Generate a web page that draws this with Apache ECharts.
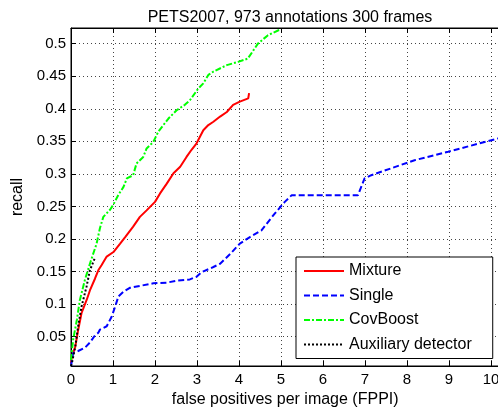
<!DOCTYPE html>
<html>
<head>
<meta charset="utf-8">
<script src="https://cdn.jsdelivr.net/npm/echarts@6/dist/echarts.min.js"></script>
<style>
  html, body { margin: 0; padding: 0; background: #fff; }
  #chart { width: 498px; height: 408px; }
</style>
</head>
<body>
<div id="chart"></div>
<script>
// Recall vs. false positives per image on PETS2007
const seriesNames = ['Mixture', 'Single', 'CovBoost', 'Auxiliary detector'];

const mixtureFppi   = [0, 0.02, 0.1, 0.17, 0.25, 0.37, 0.45, 0.57, 0.65, 0.73, 0.85, 1.01, 1.17, 1.29, 1.48, 1.64, 1.80, 2.0, 2.12, 2.28, 2.44, 2.6, 2.75, 2.87, 2.99, 3.07, 3.15, 3.27, 3.39, 3.55, 3.71, 3.86, 4.02, 4.22, 4.24];
const mixtureRecall = [0.0095, 0.019, 0.034, 0.060, 0.086, 0.106, 0.121, 0.139, 0.152, 0.160, 0.173, 0.180, 0.193, 0.203, 0.219, 0.234, 0.244, 0.257, 0.270, 0.285, 0.301, 0.311, 0.326, 0.337, 0.347, 0.357, 0.367, 0.375, 0.380, 0.388, 0.395, 0.406, 0.411, 0.416, 0.424];

const singleFppi   = [0, 0.05, 0.17, 0.33, 0.45, 0.57, 0.65, 0.69, 0.73, 0.85, 0.97, 1.05, 1.13, 1.25, 1.40, 1.64, 1.96, 2.28, 2.52, 2.83, 2.99, 3.11, 3.39, 3.55, 3.79, 4.02, 4.26, 4.53, 4.85, 5.09, 5.25, 6.83, 6.99, 7.15, 8.18, 8.98, 10.2];
const singleRecall = [0.005, 0.025, 0.028, 0.033, 0.041, 0.052, 0.056, 0.061, 0.063, 0.066, 0.081, 0.096, 0.112, 0.119, 0.125, 0.128, 0.132, 0.133, 0.136, 0.138, 0.142, 0.149, 0.157, 0.162, 0.177, 0.193, 0.203, 0.213, 0.239, 0.257, 0.267, 0.267, 0.293, 0.298, 0.321, 0.334, 0.355];

const covBoostFppi   = [0, 0.05, 0.14, 0.21, 0.33, 0.45, 0.61, 0.69, 0.77, 0.93, 1.01, 1.13, 1.25, 1.33, 1.48, 1.56, 1.72, 1.80, 1.96, 2.08, 2.2, 2.32, 2.52, 2.71, 2.83, 3.03, 3.15, 3.27, 3.39, 3.71, 3.98, 4.21, 4.45, 4.69, 4.99];
const covBoostRecall = [0.014, 0.045, 0.076, 0.106, 0.137, 0.162, 0.193, 0.217, 0.234, 0.245, 0.253, 0.268, 0.28, 0.293, 0.298, 0.316, 0.326, 0.339, 0.349, 0.365, 0.375, 0.385, 0.398, 0.406, 0.413, 0.431, 0.439, 0.452, 0.457, 0.467, 0.472, 0.477, 0.5, 0.513, 0.522];

const auxFppi   = [0, 0.02, 0.1, 0.17, 0.25, 0.37, 0.45, 0.57];
const auxRecall = [0.005, 0.009, 0.034, 0.066, 0.096, 0.127, 0.152, 0.171];

const xTicks = [0, 1, 2, 3, 4, 5, 6, 7, 8, 9, 10];
const yTicks = [0.05, 0.1, 0.15, 0.2, 0.25, 0.3, 0.35, 0.4, 0.45, 0.5];

const pairs = (xs, ys) => xs.map((x, i) => [x, ys[i]]);
const FONT = 'Liberation Sans, Arial, Helvetica, sans-serif';

const chart = echarts.init(document.getElementById('chart'), null, { renderer: 'canvas' });

const isTick = (v, list) => list.some(t => Math.abs(t - v) < 1e-9);

const lineSeries = (name, data, color, type, width) => ({
  name, type: 'line', data, symbol: 'none', showSymbol: false,
  clip: true, animation: false,
  lineStyle: { color, width, type },
  itemStyle: { color }
});

chart.setOption({
  animation: false,
  backgroundColor: '#fff',
  title: {
    text: 'PETS2007, 973 annotations 300 frames',
    left: 285, top: 5, textAlign: 'center',
    textStyle: { fontFamily: FONT, fontSize: 16, fontWeight: 'normal', color: '#000' }
  },
  grid: {
    left: 71, top: 28, right: -1.4, bottom: 42,
    outerBoundsMode: 'none', containLabel: false,
    show: true, borderColor: '#000', borderWidth: 1, backgroundColor: '#fff'
  },
  legend: {
    orient: 'vertical', left: 296, top: 257,
    padding: [6, 21, 6, 7], itemGap: 8.5, itemWidth: 40, itemHeight: 14,
    backgroundColor: '#fff', borderColor: '#000', borderWidth: 1, borderRadius: 0,
    data: seriesNames,
    // line samples only, no marker in the middle
    itemStyle: { opacity: 0 },
    textStyle: { fontFamily: FONT, fontSize: 16, color: '#000', lineHeight: 16 }
  },
  xAxis: [{
    type: 'value', min: 0, max: 10.2, interval: 1, position: 'bottom',
    name: 'false positives per image (FPPI)', nameLocation: 'middle', nameGap: 23,
    nameTextStyle: { fontFamily: FONT, fontSize: 16, color: '#000' },
    axisLine: { show: true, lineStyle: { color: '#000', width: 1 } },
    axisTick: { show: true, inside: true, length: 5, lineStyle: { color: '#000' } },
    axisLabel: {
      fontFamily: FONT, fontSize: 15, color: '#000', margin: 6,
      formatter: v => isTick(v, xTicks) ? String(v) : ''
    },
    splitLine: { show: true, lineStyle: { color: '#444', width: 1, type: [1, 3] } }
  }, {
    type: 'value', min: 0, max: 10.2, interval: 1, position: 'top',
    axisLine: { show: true, lineStyle: { color: '#000', width: 1 } },
    axisTick: { show: true, inside: true, length: 5, lineStyle: { color: '#000' } },
    axisLabel: { show: false },
    splitLine: { show: false }
  }],
  yAxis: [{
    type: 'value', min: 0.005, max: 0.524, splitNumber: 10,
    name: 'recall', nameLocation: 'middle', nameGap: 35,
    nameTextStyle: { fontFamily: FONT, fontSize: 16, color: '#000' },
    axisLine: { show: true, lineStyle: { color: '#000', width: 1 } },
    axisTick: { show: true, inside: true, length: 5, lineStyle: { color: '#000' } },
    axisLabel: {
      fontFamily: FONT, fontSize: 15, color: '#000', margin: 5,
      showMinLabel: false, showMaxLabel: false,
      formatter: v => isTick(Math.round(v * 1000) / 1000, yTicks) ? String(Math.round(v * 1000) / 1000) : ''
    },
    splitLine: { show: true, lineStyle: { color: '#444', width: 1, type: [1, 3] } }
  }],
  series: [
    lineSeries('Mixture', pairs(mixtureFppi, mixtureRecall), '#ff0000', 'solid', 2),
    lineSeries('Single', pairs(singleFppi, singleRecall), '#0000ff', [6, 3], 2),
    lineSeries('CovBoost', pairs(covBoostFppi, covBoostRecall), '#00ff00', [6, 2, 2, 2], 2),
    lineSeries('Auxiliary detector', pairs(auxFppi, auxRecall), '#000000', [2, 2], 2)
  ]
});
</script>
</body>
</html>
